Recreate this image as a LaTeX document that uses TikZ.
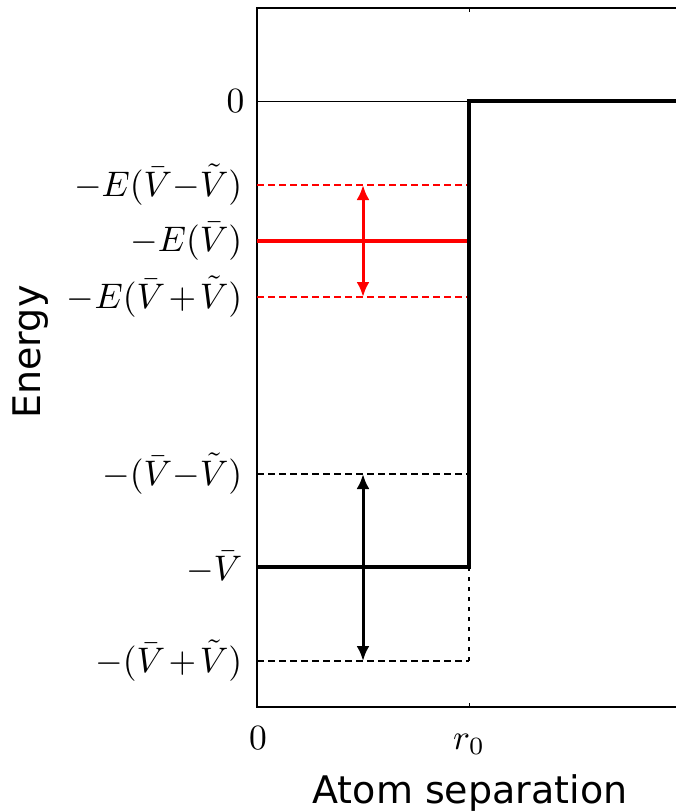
\documentclass[tikz,border=0pt]{standalone}
\usepackage{fontspec}
\newfontfamily\dejavu{DejaVu Sans}
\usetikzlibrary{arrows.meta}
\tikzset{
  mathlab/.style={font=\fontsize{10}{12}\selectfont, inner sep=0pt, scale=3.55},
  sanslab/.style={font=\dejavu\fontsize{10}{12}\selectfont, inner sep=0pt, scale=3.8},
  frameline/.style={line width=1.4pt, black},
  tickline/.style={line width=1pt, black},
  thickline/.style={line width=4.5pt, black, line join=miter},
  levelred/.style={line width=4.5pt, red},
  dashred/.style={line width=2.5pt, red, dash pattern=on 6.5pt off 4.5pt},
  dashblack/.style={line width=2.5pt, black, dash pattern=on 6.5pt off 4.5pt},
  dashvert/.style={line width=2.5pt, black, dash pattern=on 4pt off 6pt},
  dblarrow/.style={line width=3pt, {Latex[length=15pt,width=13pt]}-{Latex[length=15pt,width=13pt]}},
}
\newcommand{\plusmid}{\mskip1.8mu{+}\mskip1.8mu}
\begin{document}
\begin{tikzpicture}[x=1pt,y=-1pt]
\useasboundingbox (0,0) rectangle (675,811);
% frame
\coordinate (tl) at (257,8);
\coordinate (bl) at (257,707);
\coordinate (tr) at (676,8);
\coordinate (br) at (676,707);
\draw[frameline] (tr) -- (tl) -- (bl) -- (br);
% x ticks at r0
\coordinate (r0top) at (469,8);
\coordinate (r0topi) at (469,12);
\coordinate (r0bot) at (469,707);
\coordinate (r0boti) at (469,703);
\draw[tickline] (r0top) -- (r0topi);
\draw[tickline] (r0bot) -- (r0boti);
% y ticks
\foreach \yy in {101,185,241,297,474,567,661}{
  \draw[tickline] (257,\yy) -- (261,\yy);
}
% zero line
\coordinate (z0) at (257,101);
\coordinate (z1) at (469,101);
\draw[line width=1pt] (z0) -- (z1);
% red levels
\coordinate (ru0) at (257,185); \coordinate (ru1) at (469,185);
\coordinate (rm0) at (257,241); \coordinate (rm1) at (469,241);
\coordinate (rl0) at (257,297); \coordinate (rl1) at (469,297);
\draw[dashred] (ru0) -- (ru1);
\draw[levelred] (rm0) -- (rm1);
\draw[dashred] (rl0) -- (rl1);
% black levels
\coordinate (bu0) at (257,474); \coordinate (bu1) at (469,474);
\coordinate (bm0) at (257,567); \coordinate (bm1) at (469,567);
\coordinate (bb0) at (257,661); \coordinate (bb1) at (469,661);
\draw[dashblack] (bu0) -- (bu1);
\draw[dashblack] (bb0) -- (bb1);
\draw[dashvert] (bm1) -- (bb1);
% potential step
\coordinate (stepend) at (676,101);
\draw[thickline] (bm0) -- (bm1) -- (z1) -- (stepend);
% arrows
\coordinate (ra0) at (363,185); \coordinate (ra1) at (363,297);
\draw[dblarrow, red] (ra0) -- (ra1);
\coordinate (ba0) at (363,474); \coordinate (ba1) at (363,661);
\draw[dblarrow, black] (ba0) -- (ba1);
% y labels
\node[mathlab, anchor=east] (l0) at (245,101) {$0$};
\node[mathlab, anchor=east] (l1) at (243,185) {$-E(\bar{V}{-}\tilde{V})$};
\node[mathlab, anchor=east] (l2) at (243,241) {$-E(\bar{V})$};
\node[mathlab, anchor=east] (l3) at (243,297) {$-E(\bar{V}\plusmid\tilde{V})$};
\node[mathlab, anchor=east] (l4) at (243,474) {$-(\bar{V}{-}\tilde{V})$};
\node[mathlab, anchor=east] (l5) at (243,567) {$-\bar{V}$};
\node[mathlab, anchor=east] (l6) at (243,661) {$-(\bar{V}\plusmid\tilde{V})$};
% x labels
\node[mathlab, anchor=base] (x0) at (258,749) {$0$};
\node[mathlab, anchor=base] (x1) at (469,749) {$r_0$};
% axis titles
\node[sanslab, anchor=base] (xt) at (470,803) {Atom separation};
\node[sanslab, anchor=base, rotate=90] (yt) at (40,352) {Energy};
\end{tikzpicture}
\end{document}
